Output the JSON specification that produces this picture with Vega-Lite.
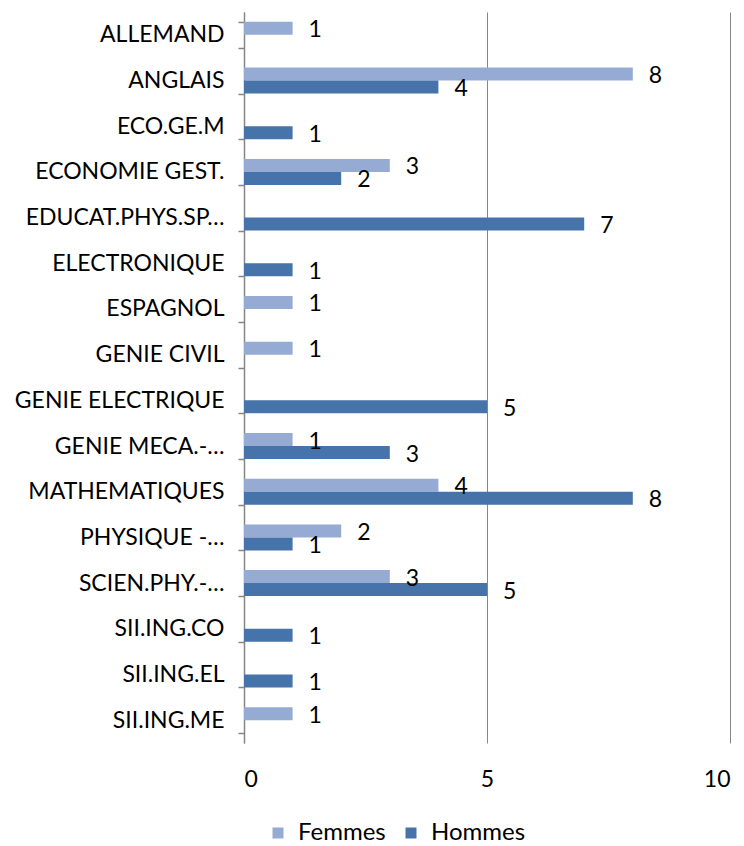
{
  "$schema": "https://vega.github.io/schema/vega-lite/v6.json",
  "width": 486,
  "height": 731,
  "autosize": "none",
  "padding": {"left": 244, "top": 12, "right": 14, "bottom": 103},
  "background": "white",
  "config": {"view": {"stroke": null}, "font": "Lato"},
  "data": {
    "values": [
      {"matiere": "ALLEMAND", "sexe": "Femmes", "n": 1},
      {"matiere": "ANGLAIS", "sexe": "Femmes", "n": 8},
      {"matiere": "ANGLAIS", "sexe": "Hommes", "n": 4},
      {"matiere": "ECO.GE.M", "sexe": "Hommes", "n": 1},
      {"matiere": "ECONOMIE GEST.", "sexe": "Femmes", "n": 3},
      {"matiere": "ECONOMIE GEST.", "sexe": "Hommes", "n": 2},
      {"matiere": "EDUCAT.PHYS.SP…", "sexe": "Hommes", "n": 7},
      {"matiere": "ELECTRONIQUE", "sexe": "Hommes", "n": 1},
      {"matiere": "ESPAGNOL", "sexe": "Femmes", "n": 1},
      {"matiere": "GENIE CIVIL", "sexe": "Femmes", "n": 1},
      {"matiere": "GENIE ELECTRIQUE", "sexe": "Hommes", "n": 5},
      {"matiere": "GENIE MECA.-…", "sexe": "Femmes", "n": 1},
      {"matiere": "GENIE MECA.-…", "sexe": "Hommes", "n": 3},
      {"matiere": "MATHEMATIQUES", "sexe": "Femmes", "n": 4},
      {"matiere": "MATHEMATIQUES", "sexe": "Hommes", "n": 8},
      {"matiere": "PHYSIQUE -…", "sexe": "Femmes", "n": 2},
      {"matiere": "PHYSIQUE -…", "sexe": "Hommes", "n": 1},
      {"matiere": "SCIEN.PHY.-…", "sexe": "Femmes", "n": 3},
      {"matiere": "SCIEN.PHY.-…", "sexe": "Hommes", "n": 5},
      {"matiere": "SII.ING.CO", "sexe": "Hommes", "n": 1},
      {"matiere": "SII.ING.EL", "sexe": "Hommes", "n": 1},
      {"matiere": "SII.ING.ME", "sexe": "Femmes", "n": 1}
    ]
  },
  "encoding": {
    "y": {
      "field": "matiere", "type": "nominal", "sort": null, "title": null,
      "scale": {"paddingInner": 0.43, "paddingOuter": 0.215},
      "axis": {
        "labelFontSize": 23, "labelColor": "#000000", "labelPadding": 14,
        "labelLimit": 300, "tickSize": 6, "tickColor": "#868686",
        "domainColor": "#868686", "tickBand": "extent", "tickWidth": 1.5, "domainWidth": 1.5
      }
    },
    "yOffset": {"field": "sexe", "type": "nominal", "sort": ["Femmes", "Hommes"]},
    "x": {
      "field": "n", "type": "quantitative", "title": null,
      "scale": {"domain": [0, 10], "nice": false},
      "axis": {
        "values": [0, 5, 10], "labelFontSize": 23, "labelColor": "#000000",
        "domain": false, "ticks": false, "grid": true, "gridColor": "#868686",
        "gridWidth": 1, "labelPadding": 25
      }
    }
  },
  "layer": [
    {
      "mark": {"type": "bar"},
      "encoding": {
        "color": {
          "field": "sexe", "type": "nominal", "title": null,
          "scale": {"domain": ["Femmes", "Hommes"], "range": ["#95abd3", "#4673a9"]},
          "legend": {
            "orient": "none", "legendX": 22, "legendY": 809, "direction": "horizontal", "symbolType": "square",
            "symbolSize": 121, "labelFontSize": 24, "labelColor": "#000000",
            "columnPadding": 13, "labelOffset": 8, "symbolStrokeWidth": 0
          }
        }
      }
    },
    {
      "mark": {"type": "text", "align": "left", "dx": 16, "dy": 2, "fontSize": 23, "color": "#000000", "baseline": "middle"},
      "encoding": {"text": {"field": "n", "type": "quantitative"}}
    }
  ]
}
